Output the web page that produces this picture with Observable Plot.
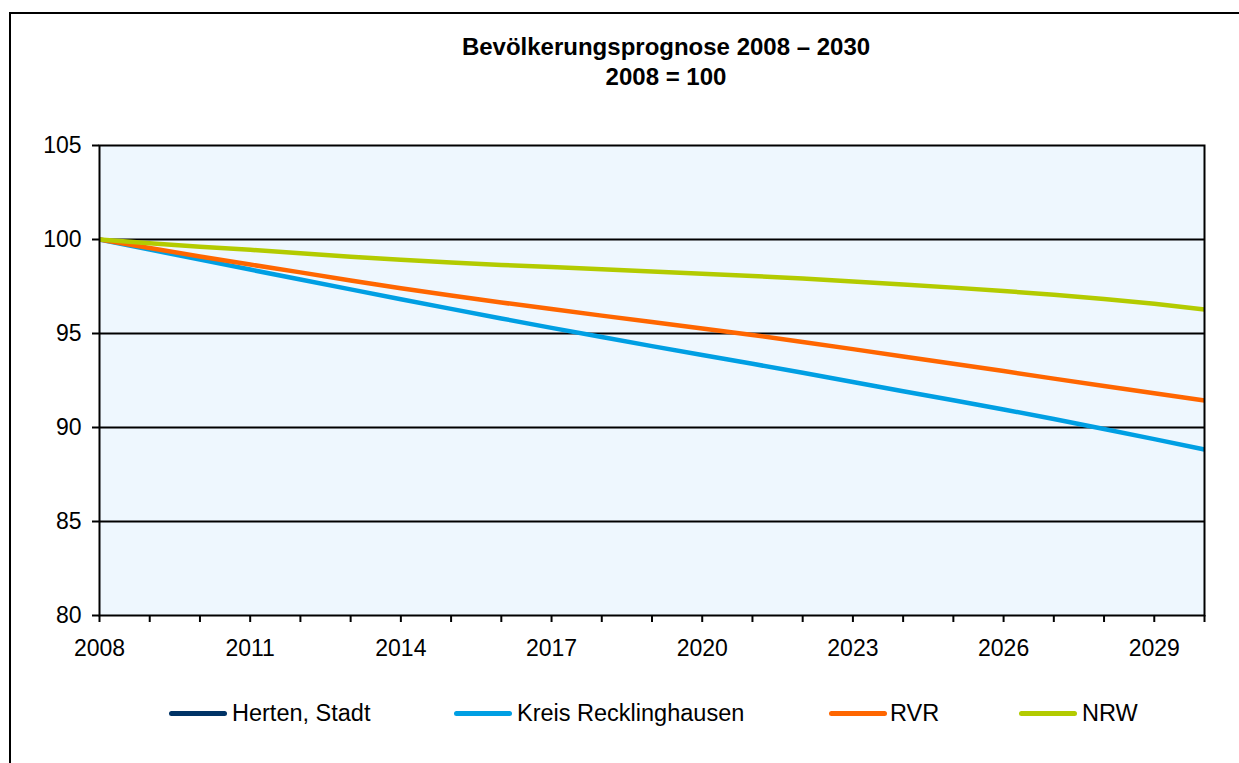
<!DOCTYPE html>
<html>
<head>
<meta charset="utf-8">
<script src="https://cdn.jsdelivr.net/npm/d3@7"></script>
<script src="https://cdn.jsdelivr.net/npm/@observablehq/plot@0.6"></script>
<style>
  html, body { margin: 0; padding: 0; background: #fff; overflow: hidden; }
  #wrap { position: relative; width: 1239px; height: 763px; font-family: "Liberation Sans", Arial, sans-serif; color: #000; }
  #border { position: absolute; left: 9px; top: 12px; width: 1300px; height: 800px; border: 2px solid #000; box-sizing: border-box; }
  #title { position: absolute; left: 666px; top: 32px; transform: translateX(-50%); text-align: center; font-weight: bold; font-size: 24px; line-height: 30px; white-space: nowrap; }
  #chart { position: absolute; left: 0; top: 0; }
  .lg-sw { position: absolute; height: 5px; border-radius: 3px; top: 711px; }
  .lg-tx { position: absolute; top: 699px; font-size: 23.5px; line-height: 28px; white-space: nowrap; }
</style>
</head>
<body>
<div id="wrap">
  <div id="border"></div>
  <div id="chart"></div>
  <div id="title">Bevölkerungsprognose 2008 – 2030<br>2008 = 100</div>
  <div id="legend"></div>
</div>
<script>
// ---- data ----
const years = [2008, 2009, 2010, 2011, 2012, 2013, 2014, 2015, 2016, 2017, 2018, 2019, 2020, 2021, 2022, 2023, 2024, 2025, 2026, 2027, 2028, 2029, 2030];
const herten = []; // no visible line in the reference
const kreisRecklinghausen = [100, 99.465, 98.93, 98.4, 97.87, 97.345, 96.825, 96.31, 95.8, 95.3, 94.81, 94.33, 93.86, 93.39, 92.91, 92.42, 91.93, 91.45, 90.96, 90.45, 89.92, 89.38, 88.83];
const rvr = [100, 99.55, 99.1, 98.67, 98.25, 97.82, 97.41, 97.02, 96.65, 96.3, 95.95, 95.61, 95.27, 94.92, 94.55, 94.17, 93.78, 93.39, 93.0, 92.6, 92.21, 91.82, 91.44];
const nrw = [100, 99.8, 99.62, 99.45, 99.27, 99.08, 98.92, 98.78, 98.65, 98.54, 98.42, 98.3, 98.18, 98.06, 97.92, 97.77, 97.61, 97.44, 97.26, 97.06, 96.84, 96.58, 96.28];
const seriesNames = ["Herten, Stadt", "Kreis Recklinghausen", "RVR", "NRW"];
const seriesColors = ["#003366", "#009FE3", "#FF6600", "#B3CB00"];
const yTicks = [80, 85, 90, 95, 100, 105];
const gridValues = [85, 90, 95, 100];
const xLabelYears = [2008, 2011, 2014, 2017, 2020, 2023, 2026, 2029];

// ---- build table ----
const seriesValues = [herten, kreisRecklinghausen, rvr, nrw];
const rows = [];
seriesNames.forEach((name, i) => {
  seriesValues[i].forEach((v, j) => rows.push({ series: name, year: years[j], value: v }));
});

const chart = Plot.plot({
  width: 1239,
  height: 680,
  marginLeft: 99,
  marginRight: 35,
  marginTop: 145,
  marginBottom: 65,
  style: { fontFamily: "'Liberation Sans', Arial, sans-serif", fontSize: "23px", background: "transparent", color: "#000", overflow: "visible" },
  x: { domain: [2008, 2030], label: null },
  y: { domain: [80, 105], label: null },
  color: { domain: seriesNames, range: seriesColors },
  marks: [
    Plot.frame({ fill: "#EEF7FE", stroke: null }),
    Plot.ruleY(gridValues, { stroke: "#000", strokeWidth: 2 }),
    Plot.line(rows, { x: "year", y: "value", z: "series", stroke: "series", strokeWidth: 4.5, strokeLinecap: "butt" }),
    Plot.axisY({ ticks: yTicks, tickSize: 7, tickPadding: 11, strokeWidth: 2, tickFormat: d => String(d), label: null }),
    Plot.axisX({ ticks: years, tickSize: 7, tickPadding: 17, strokeWidth: 2, tickFormat: d => xLabelYears.includes(d) ? String(d) : "", label: null }),
    Plot.frame({ stroke: "#000", strokeWidth: 2 })
  ]
});
document.getElementById("chart").appendChild(chart);

// ---- legend ----
const legendPos = [
  { sw: 169, tx: 232 },
  { sw: 454, tx: 517 },
  { sw: 829, tx: 890 },
  { sw: 1019, tx: 1082 }
];
const legend = document.getElementById("legend");
seriesNames.forEach((name, i) => {
  const sw = document.createElement("div");
  sw.className = "lg-sw";
  sw.style.left = legendPos[i].sw + "px";
  sw.style.width = "58px";
  sw.style.background = seriesColors[i];
  legend.appendChild(sw);
  const tx = document.createElement("div");
  tx.className = "lg-tx";
  tx.style.left = legendPos[i].tx + "px";
  tx.textContent = name;
  legend.appendChild(tx);
});
</script>
</body>
</html>
